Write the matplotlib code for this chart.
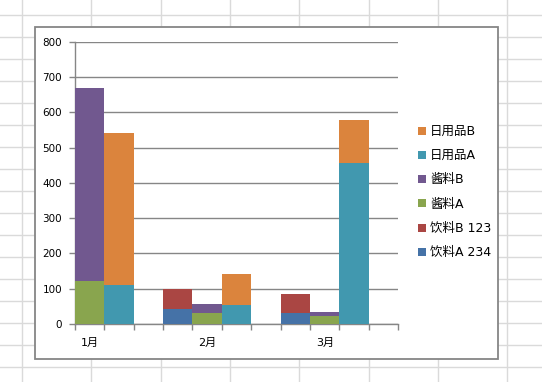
import matplotlib
matplotlib.use("Agg")
import matplotlib.pyplot as plt
from matplotlib.lines import Line2D
from matplotlib.patches import Rectangle
import numpy as np

plt.rcParams['font.family'] = ['DejaVu Sans', 'Noto Sans CJK SC']

# 11 category slots (Excel category axis, labels only on some slots)
slot_labels = ["1月", "", "", "", "2月", "", "", "", "3月", "", ""]
series_names = ["饮料A 234", "饮料B 123", "酱料A", "酱料B", "日用品A", "日用品B"]
drink_a   = [0, 0, 0, 42, 0, 0, 0, 30, 0, 0, 0]
drink_b   = [0, 0, 0, 57, 0, 0, 0, 55, 0, 0, 0]
sauce_a   = [122, 0, 0, 0, 31, 0, 0, 0, 23, 0, 0]
sauce_b   = [546, 0, 0, 0, 26, 0, 0, 0, 11, 0, 0]
daily_a   = [0, 110, 0, 0, 0, 54, 0, 0, 0, 456, 0]
daily_b   = [0, 431, 0, 0, 0, 88, 0, 0, 0, 122, 0]
colors = ["#4572A7", "#AA4643", "#89A54E", "#71588F", "#4198AF", "#DB843D"]
y_ticks = [0, 100, 200, 300, 400, 500, 600, 700, 800]

W, H = 542, 382
fig = plt.figure(figsize=(W / 100, H / 100), dpi=100)
fig.patch.set_facecolor("white")

def fx(px):
    return px / W

def fy(py):
    return 1 - py / H

# spreadsheet grid background
grid_c = "#dadada"
for gx in [22, 91.3, 160.7, 230, 299.3, 368.7, 438, 507.3]:
    fig.add_artist(Line2D([fx(gx), fx(gx)], [0, 1], color=grid_c, lw=1.0, zorder=0))
for gy in np.arange(15, 382, 22):
    fig.add_artist(Line2D([0, 1], [fy(gy), fy(gy)], color=grid_c, lw=1.0, zorder=0))

# chart area box
fig.add_artist(Rectangle((fx(35), fy(359.3)), fx(498) - fx(35), fy(27.3) - fy(359.3),
                         facecolor="white", edgecolor="#868686", lw=1.3, zorder=1))

ax = fig.add_axes([fx(74.7), fy(324), fx(398.3) - fx(74.7), fy(41.7) - fy(324)], zorder=2)
ax.set_facecolor("none")

x = np.arange(len(slot_labels)) + 0.5
all_series = [drink_a, drink_b, sauce_a, sauce_b, daily_a, daily_b]
bottom = np.zeros(len(slot_labels))
handles = []
for name, vals, c in zip(series_names, all_series, colors):
    vals = np.array(vals, dtype=float)
    b = ax.bar(x, vals, width=1.0, bottom=bottom, color=c, label=name, zorder=3)
    handles.append(b)
    bottom += vals

ax.set_xlim(0, len(slot_labels))
ax.set_ylim(0, 800)
ax.set_yticks(y_ticks)
ax.yaxis.grid(True, color="#868686", lw=1.0)
ax.set_axisbelow(True)
ax.tick_params(axis="y", length=4, width=1.0, color="#868686", pad=5, labelsize=7.5)

ax.set_xticks(np.arange(len(slot_labels) + 1))
ax.set_xticklabels([])
ax.tick_params(axis="x", which="major", length=4, width=1.0, color="#868686")
lab_pos = [i + 0.5 for i, s in enumerate(slot_labels) if s]
ax.set_xticks(lab_pos, minor=True)
ax.set_xticklabels([s for s in slot_labels if s], minor=True)
ax.tick_params(axis="x", which="minor", length=0, pad=10, labelsize=8)

for s in ["top", "right"]:
    ax.spines[s].set_visible(False)
for s in ["left", "bottom"]:
    ax.spines[s].set_color("#868686")
    ax.spines[s].set_linewidth(1.0)

leg = fig.legend(handles[::-1], series_names[::-1], loc="upper left",
                 bbox_to_anchor=(fx(418), fy(125)), frameon=False,
                 fontsize=9, handlelength=0.6, handleheight=0.6,
                 handletextpad=0.35, labelspacing=0.9, borderaxespad=0,
                 borderpad=0)

fig.savefig("out.png", dpi=100)
